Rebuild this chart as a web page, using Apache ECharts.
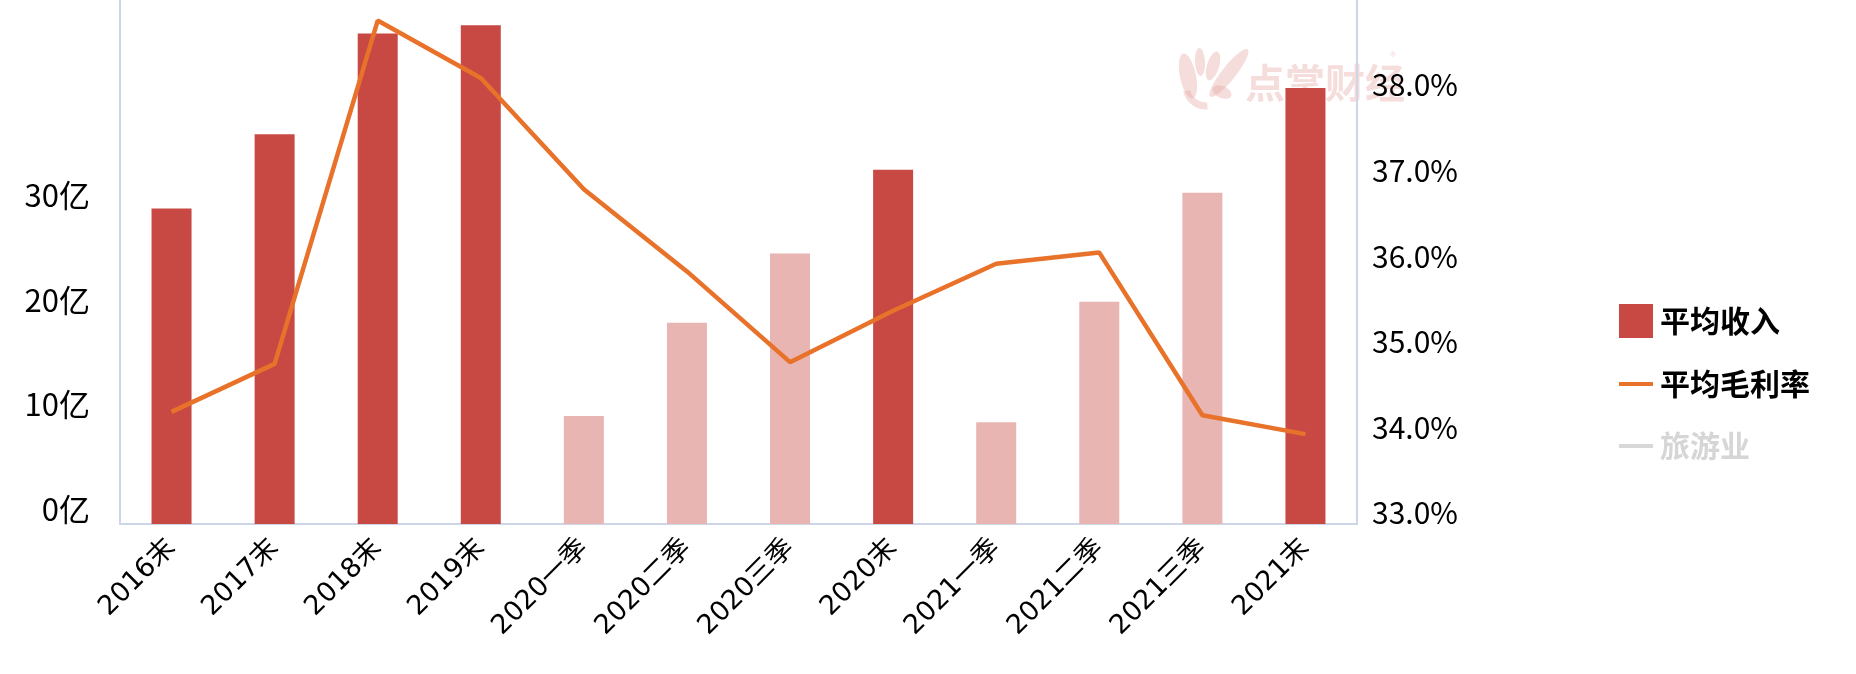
<!DOCTYPE html>
<html><head><meta charset="utf-8">
<script src="https://cdn.jsdelivr.net/npm/echarts@6/dist/echarts.min.js"></script>
<style>html,body{margin:0;padding:0;background:#fff}#c{width:1856px;height:674px}</style>
</head><body><div id="c"></div>
<script>
// ---- data ----
const categories = ['2016末','2017末','2018末','2019末','2020一季','2020二季','2020三季','2020末','2021一季','2021二季','2021三季','2021末'];
const avgRevenue = [30.1, 37.2, 46.8, 47.6, 10.3, 19.2, 25.8, 33.8, 9.7, 21.2, 31.6, 41.6];      // 亿
const avgGrossMargin = [34.31, 34.87, 38.88, 38.21, 36.91, 35.95, 34.89, 35.49, 36.04, 36.17, 34.27, 34.05]; // %
const tourism = [];   // 旅游业 (legend only)
const leftTickValues = [0, 10, 20, 30];
const rightTickValues = [33, 34, 35, 36, 37, 38];
const seriesNames = ['平均收入', '平均毛利率', '旅游业'];

// ---- styles ----
const FONT = "'Liberation Sans Narrow','Noto Sans CJK SC','Noto Sans',sans-serif";
const XFONT = "'DejaVu Sans','Noto Sans CJK SC',sans-serif";
const CJK = "'Noto Sans CJK SC',sans-serif";
const DARK = '#c84843', LIGHT = '#e8b5b2', ORANGE = '#e8722a', GREY = '#d8d8d8', AXIS = '#cdd6e9';
const WM = 'rgba(230,165,160,0.38)';

const legendText = {fontFamily: CJK, fontSize: 30, fontWeight: 'bold', color: '#000', lineHeight: 34, padding: [0, 0, 0, 2]};

function blob(x, y, rx, ry, rot) {
  return {type: 'ellipse', z: 0, x: x, y: y, rotation: rot, shape: {cx: 0, cy: 0, rx: rx, ry: ry}, style: {fill: WM}};
}

const chart = echarts.init(document.getElementById('c'), null, {renderer: 'canvas'});
chart.setOption({
  animation: false,
  backgroundColor: '#fff',
  grid: {left: 120, right: 499, top: 0, bottom: 150, containLabel: false},
  graphic: [
    {type: 'text', left: 1245, top: 63, z: 0,
     style: {text: '点掌财经', font: "bold 40px " + CJK, fill: WM}},
    {type: 'text', left: 1390, top: 50, z: 0,
     style: {text: '®', font: "12px " + CJK, fill: WM}},
    // stylised hand logo of the watermark
    blob(1188, 76, 8, 23, 0.2),
    blob(1200, 62, 5, 14, 0.05),
    blob(1213, 66, 6, 15, -0.3),
    blob(1229, 73, 7, 30, -0.67),
    blob(1222, 92, 10, 6, -0.4),
    {type: 'arc', z: 0, shape: {cx: 1206, cy: 86, r: 20, startAngle: 1.5, endAngle: 2.9},
     style: {stroke: WM, lineWidth: 7, fill: null}}
  ],
  legend: [{
    orient: 'vertical', left: 1614, top: 299,
    itemWidth: 34, itemHeight: 34,
    textStyle: legendText,
    data: [{name: seriesNames[0], icon: 'rect', itemStyle: {color: DARK}}]
  }, {
    orient: 'vertical', left: 1614, top: 362,
    itemWidth: 34, itemHeight: 4, itemGap: 28,
    textStyle: legendText,
    data: [
      {name: seriesNames[1], icon: 'rect'},
      {name: seriesNames[2], icon: 'rect', textStyle: {color: '#d6d6d6'}}
    ]
  }],
  xAxis: {
    type: 'category', data: categories,
    axisLine: {lineStyle: {color: AXIS, width: 2}},
    axisTick: {show: false},
    axisLabel: {rotate: 45, margin: 20, fontFamily: XFONT, fontSize: 27, color: '#000', interval: 0}
  },
  yAxis: [{
    type: 'value', min: 0, max: 50, interval: 10, position: 'left',
    axisLine: {show: true, lineStyle: {color: AXIS, width: 2}},
    axisTick: {show: false}, splitLine: {show: false},
    axisLabel: {
      margin: 30, fontFamily: FONT, fontSize: 31, color: '#000',
      verticalAlign: 'bottom', lineHeight: 29,
      formatter: v => leftTickValues.includes(v) ? v + '亿' : ''
    }
  }, {
    type: 'value', min: 33, max: 39.12, interval: 1, position: 'right',
    axisLine: {show: true, lineStyle: {color: AXIS, width: 2}},
    axisTick: {show: false}, splitLine: {show: false},
    axisLabel: {
      margin: 15, fontFamily: FONT, fontSize: 30, color: '#000',
      verticalAlign: 'bottom', lineHeight: 22,
      formatter: v => rightTickValues.includes(v) ? v.toFixed(1) + '%' : ''
    }
  }],
  series: [{
    name: seriesNames[0], type: 'bar', yAxisIndex: 0, barWidth: 40, z: 2,
    data: avgRevenue,
    itemStyle: {color: p => categories[p.dataIndex].endsWith('季') ? LIGHT : DARK}
  }, {
    name: seriesNames[1], type: 'line', yAxisIndex: 1, z: 3,
    data: avgGrossMargin, symbol: 'none', showSymbol: false,
    lineStyle: {color: ORANGE, width: 4.5}, itemStyle: {color: ORANGE}
  }, {
    name: seriesNames[2], type: 'line', yAxisIndex: 1,
    data: tourism, symbol: 'none',
    lineStyle: {color: GREY, width: 4}, itemStyle: {color: GREY}
  }]
});
</script></body></html>
